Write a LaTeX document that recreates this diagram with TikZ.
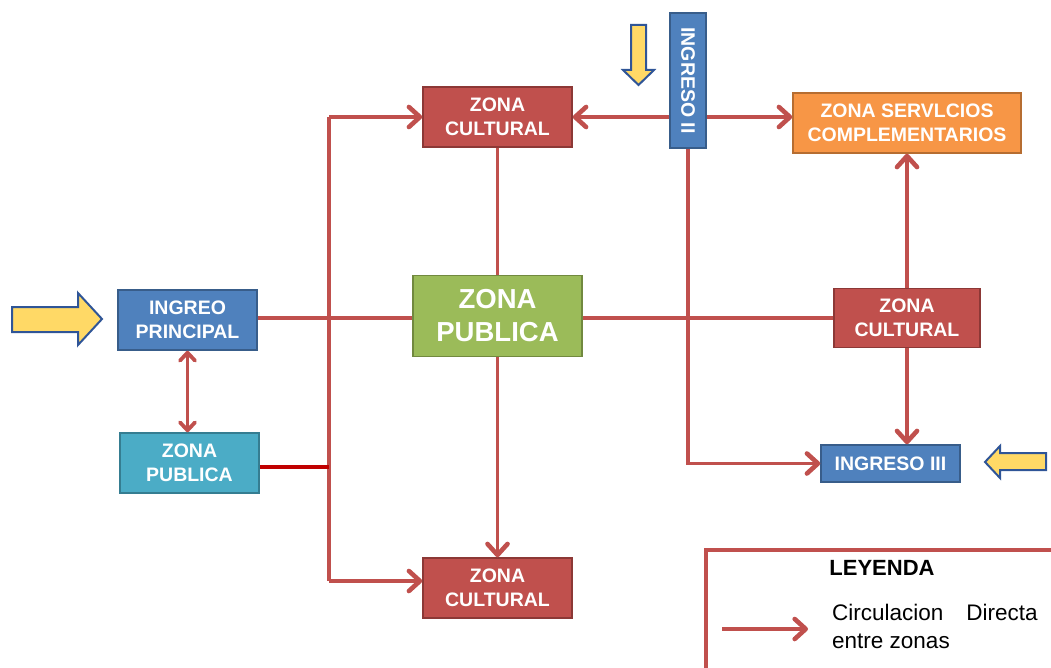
\documentclass[tikz,border=0pt]{standalone}
\usepackage{fontspec}
\usepackage{graphicx}
\setmainfont{Liberation Sans}
\usetikzlibrary{arrows.meta}
\definecolor{lred}{HTML}{C0504D}
\definecolor{dred}{HTML}{C00000}
\definecolor{cred}{HTML}{C0504D}
\definecolor{credD}{HTML}{8C3836}
\definecolor{cblue}{HTML}{4F81BD}
\definecolor{cblueD}{HTML}{385D8A}
\definecolor{cteal}{HTML}{4BACC6}
\definecolor{ctealD}{HTML}{357D91}
\definecolor{cgreen}{HTML}{9BBB59}
\definecolor{cgreenD}{HTML}{71893F}
\definecolor{corange}{HTML}{F79646}
\definecolor{corangeD}{HTML}{B66D31}
\definecolor{cyellow}{HTML}{FFD966}
\definecolor{cyellowD}{HTML}{2F5597}
\begin{document}
\begin{tikzpicture}[x=1pt,y=-1pt,
  box/.style={draw, line width=1.5pt, text=white, align=center, inner sep=2pt,
    font=\bfseries\fontsize{19.5}{24}\selectfont},
  bigbox/.style={box, font=\bfseries\fontsize{27.5}{33}\selectfont},
  conn/.style={draw=lred, line width=3.2pt},
  tip/.tip={Straight Barb[length=11pt,width=20pt,line width=4.6pt,round]},
  smalltip/.tip={Straight Barb[length=8pt,width=15pt,line width=3.8pt,round]},
  arr/.style={conn, -tip},
  arrboth/.style={draw=lred, line width=2.8pt, smalltip-smalltip},
  bold/.style={draw=dred, line width=4pt},
  yarrow/.style={fill=cyellow, draw=cyellowD, line width=2pt, line join=miter}]
\useasboundingbox (0,0) rectangle (1051,668);

% zones
\node[box, fill=cblue, draw=cblueD, minimum width=139pt, minimum height=60pt] (ingreo) at (187.5,320) {INGREO\\PRINCIPAL};
\node[box, fill=cteal, draw=ctealD, minimum width=139pt, minimum height=60pt] (teal) at (189.5,463) {ZONA\\PUBLICA};
\node[box, fill=cred, draw=credD, minimum width=149pt, minimum height=60pt] (cult1) at (497.5,117) {ZONA\\CULTURAL};
\node[bigbox, fill=cgreen, draw=cgreenD, minimum width=169pt, minimum height=81pt] (pubc) at (497.5,316) {ZONA\\PUBLICA};
\node[box, fill=cred, draw=credD, minimum width=149pt, minimum height=60pt] (cult3) at (497.5,588) {ZONA\\CULTURAL};
\node[box, fill=cblue, draw=cblueD, minimum width=36pt, minimum height=135pt] (ing2) at (688,80.5) {\rotatebox{-90}{INGRESO II}};
\node[box, fill=corange, draw=corangeD, minimum width=228pt, minimum height=60pt] (serv) at (907,123) {ZONA SERVLCIOS\\COMPLEMENTARIOS};
\node[box, fill=cred, draw=credD, minimum width=146pt, minimum height=59pt] (cultR) at (907,318) {ZONA\\CULTURAL};
\node[box, fill=cblue, draw=cblueD, minimum width=139pt, minimum height=37pt] (ing3) at (890.5,463.5) {INGRESO III};

% bus points
\coordinate (busT) at (329,117);
\coordinate (busM) at (329,467);
\coordinate (busB) at (329,581);
\coordinate (axis) at (0,318);

% connectors
\draw[conn] (ingreo.east |- axis) -- (pubc.west |- axis);
\draw[conn] (pubc.east |- axis) -- (cultR.west |- axis);
\draw[conn, line cap=square] (busT) -- (busB);
\draw[arr] (busT) -- (cult1.west);
\draw[arr] (busB) -- (busB -| cult3.west);
\draw[bold] (busM -| teal.east) -- (busM);
\draw[arrboth] (ingreo.south) -- (ingreo.south |- teal.north);
\draw[conn] (cult1.south) -- (cult1.south |- pubc.north);
\draw[arr] (pubc.south) -- (cult3.north);
\draw[arr] (ing2.west |- cult1.east) -- (cult1.east);
\draw[arr] (ing2.east |- cult1.east) -- (serv.west |- cult1.east);
\draw[arr] (ing2.south) |- (ing3.west);
\draw[arr] (cultR.north) -- (serv.south);
\draw[arr] (cultR.south) -- (cultR.south |- ing3.north);

% entry arrows
\draw[yarrow] (12,307) -- (78,307) -- (78,293) -- (102,319) -- (78,345) -- (78,332) -- (12,332) -- cycle;
\draw[yarrow] (631,25) -- (646,25) -- (646,70) -- (654,70) -- (638.5,85) -- (623,70) -- (631,70) -- cycle;
\draw[yarrow] (1046,453) -- (1000,453) -- (1000,446) -- (985,462) -- (1000,478) -- (1000,470) -- (1046,470) -- cycle;

% legend
\coordinate (lgA) at (706,668);
\coordinate (lgB) at (706,550);
\coordinate (lgC) at (1051,550);
\draw[conn] (lgA) -- (lgB) -- (lgC);
\node[font=\bfseries\fontsize{22}{26}\selectfont] (ley) at (882,568) {LEYENDA};
\coordinate (la1) at (722,629);
\coordinate (la2) at (808,629);
\draw[arr] (la1) -- (la2);
\node[anchor=base west, inner sep=0pt, font=\fontsize{22.5}{28}\selectfont] (l1) at (832,620) {Circulacion\hspace{23pt}Directa};
\node[anchor=base west, inner sep=0pt, font=\fontsize{22.5}{28}\selectfont] (l2) at (832,648) {entre zonas};
\end{tikzpicture}
\end{document}
